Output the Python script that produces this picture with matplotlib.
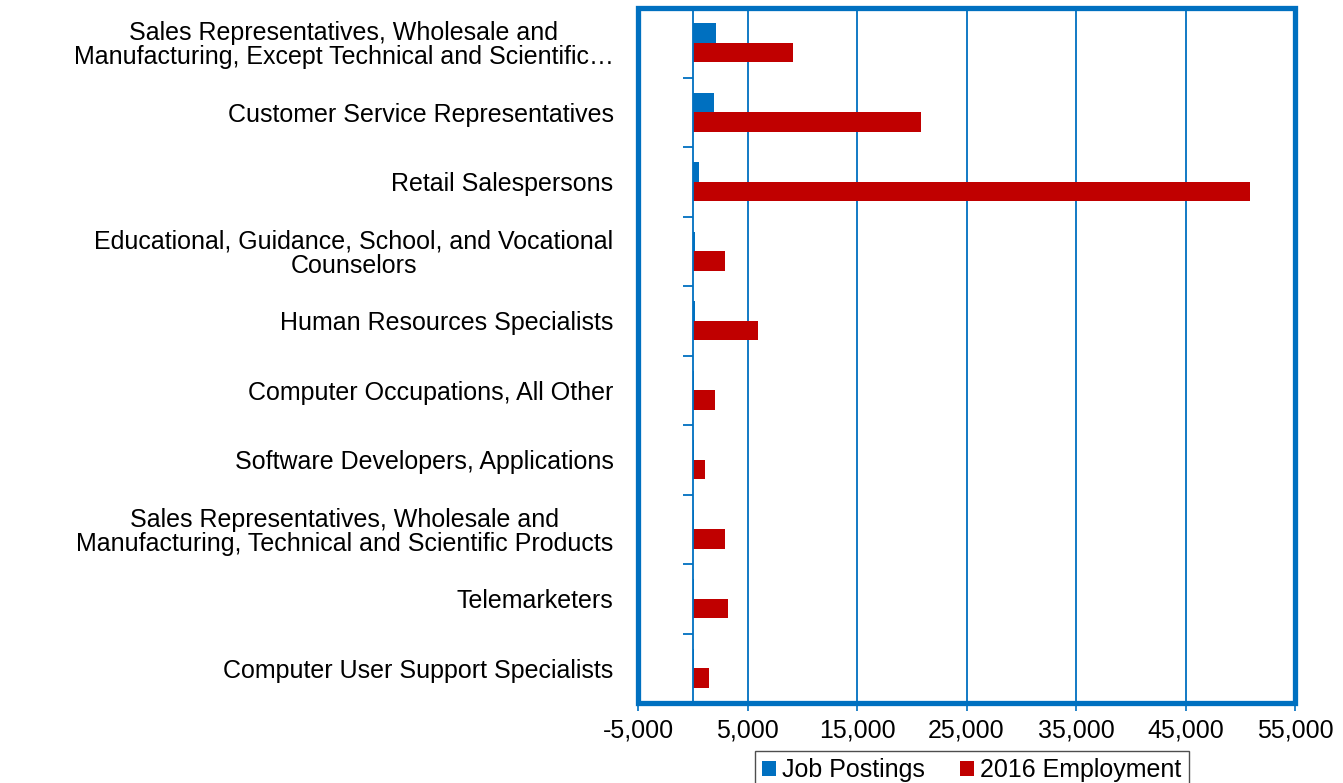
import matplotlib
matplotlib.use('Agg')
import matplotlib.pyplot as plt
import numpy as np
from matplotlib.patches import Rectangle

# данные
categories = [
    "Sales Representatives, Wholesale and\nManufacturing, Except Technical and Scientific\u2026",
    "Customer Service Representatives",
    "Retail Salespersons",
    "Educational, Guidance, School, and Vocational\nCounselors",
    "Human Resources Specialists",
    "Computer Occupations, All Other",
    "Software Developers, Applications",
    "Sales Representatives, Wholesale and\nManufacturing, Technical and Scientific Products",
    "Telemarketers",
    "Computer User Support Specialists",
]
job_postings = [2140, 1950, 530, 200, 200, 120, 100, 100, 100, 100]
employment_2016 = [9160, 20880, 50860, 2900, 5970, 1990, 1100, 2930, 3200, 1500]
x_ticks = [-5000, 5000, 15000, 25000, 35000, 45000, 55000]

BLUE = '#0070C0'
RED = '#C00000'
FS = 18

plt.rcParams['font.family'] = ['Liberation Sans', 'DejaVu Sans']

fig = plt.figure(figsize=(13.43, 7.83), dpi=100)
ax = fig.add_axes([638 / 1343, 80 / 783, 657 / 1343, 695 / 783])

y = np.arange(len(categories))
h = 0.275
ax.barh(y - 0.14, job_postings, height=h, color=BLUE, label='Job Postings', zorder=3)
ax.barh(y + 0.14, employment_2016, height=h, color=RED, label='2016 Employment', zorder=3)

ax.set_xlim(-5000, 55000)
ax.set_ylim(len(categories) - 0.5, -0.5)

ax.set_xticks(x_ticks)
ax.set_xticklabels([f"{v:,}" for v in x_ticks], fontsize=FS)
ax.tick_params(axis='x', length=6, width=1.2, color=BLUE, pad=5)
ax.grid(axis='x', color=BLUE, lw=1.3, zorder=1)

# ось категорий на нуле
for s in ['top', 'right', 'bottom']:
    ax.spines[s].set_visible(False)
ax.spines['left'].set_position(('data', 0))
ax.spines['left'].set_color(BLUE)
ax.spines['left'].set_linewidth(1.3)
ax.spines['left'].set_zorder(4)
ax.set_yticks(y)
ax.set_yticks(np.arange(len(categories) + 1) - 0.5, minor=True)
ax.tick_params(axis='y', which='major', length=0, pad=57)
ax.tick_params(axis='y', which='minor', length=7, width=1.3, color=BLUE)
ax.set_yticklabels(categories, fontsize=FS, multialignment='center', linespacing=1.0)

# рамка
ax.add_patch(Rectangle((0, 0), 1, 1, transform=ax.transAxes, fill=False,
                       ec=BLUE, lw=3.8, clip_on=False, zorder=5))

leg = fig.legend(loc='upper center', bbox_to_anchor=(972 / 1343, 1 - 751 / 783),
                 ncol=2, fontsize=FS, frameon=True, fancybox=False, edgecolor='#222222',
                 handlelength=0.55, handleheight=0.55, handletextpad=0.25,
                 columnspacing=1.4, borderpad=0.3, borderaxespad=0)
leg.get_frame().set_linewidth(1.0)

fig.savefig('out.png', dpi=100)
